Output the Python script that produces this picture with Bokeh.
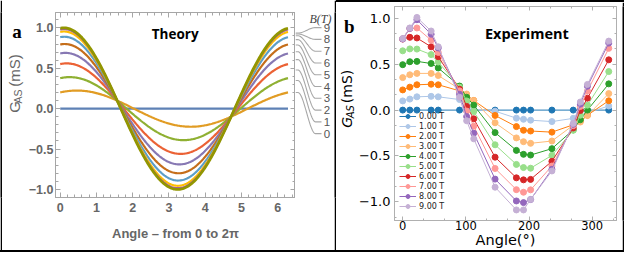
import numpy as np
from bokeh.plotting import figure
from bokeh.layouts import row, column
from bokeh.models import (Range1d, LinearAxis, SingleIntervalTicker, Legend, Div,
                          LegendItem, CustomJSTickFormatter, CustomLabelingPolicy)
from bokeh.core.properties import value
from bokeh.embed import file_html
from bokeh.resources import INLINE

# ---------------- data: panel a (theory model curves) ----------------
B_FIELDS = [0, 1, 2, 3, 4, 5, 6, 7, 8, 9]
THEORY_AMP = [0.0, 0.224, 0.39, 0.56, 0.69, 0.80, 0.89, 0.955, 0.985, 1.0]
THEORY_PHASE = [0.0, 0.46, 0.26, 0.18, 0.145, 0.125, 0.113, 0.105, 0.102, 0.10]
THEORY_COLORS = ["#5E81B5", "#E19C24", "#8FB032", "#EB6235", "#8778B3",
                 "#C56E1A", "#5D9EC7", "#FFBF00", "#A5609D", "#929600"]
CALLOUT_Y = [-0.688, -0.491, -0.294, -0.097, 0.100, 0.297, 0.494, 0.691, 0.889, 1.086]

# ---------------- data: panel b (experiment) ----------------
ANGLES = [0, 11.25, 22.5, 45, 56.25, 90, 101.25, 112.5, 146.25, 180, 191.25,
          202.5, 236.25, 270, 281.25, 292.5, 326.25]
G_0T = [0, 0, 0, 0, 0, 0, 0, 0, 0, 0, 0, 0, 0, 0, 0, 0, 0]
G_1T = [0.10, 0.12, 0.145, 0.15, 0.145, 0.115, 0.06, 0.005, -0.012, -0.088, -0.10,
        -0.11, -0.125, -0.09, -0.06, -0.03, 0.045]
G_2T = [0.22, 0.25, 0.276, 0.282, 0.276, 0.21, 0.165, 0.105, -0.058, -0.18, -0.22,
        -0.228, -0.24, -0.16, -0.12, -0.055, 0.102]
G_3T = [0.354, 0.385, 0.40, 0.40, 0.377, 0.23, 0.175, 0.105, -0.138, -0.303, -0.344,
        -0.362, -0.337, -0.165, -0.13, -0.06, 0.18]
G_4T = [0.495, 0.527, 0.531, 0.508, 0.459, 0.262, 0.14, 0.054, -0.245, -0.439, -0.482,
        -0.49, -0.42, -0.215, -0.105, 0.0, 0.286]
G_5T = [0.646, 0.667, 0.665, 0.605, 0.524, 0.25, 0.10, -0.016, -0.378, -0.592, -0.626,
        -0.633, -0.493, -0.22, -0.055, 0.054, 0.42]
G_6T = [0.775, 0.793, 0.786, 0.69, 0.582, 0.228, 0.04, -0.095, -0.513, -0.738, -0.76,
        -0.755, -0.558, -0.195, -0.005, 0.13, 0.548]
G_7T = [0.775, 0.89, 0.895, 0.762, 0.629, 0.21, -0.01, -0.175, -0.636, -0.867, -0.895,
        -0.869, -0.609, -0.17, 0.04, 0.207, 0.673]
G_8T = [0.775, 0.89, 0.985, 0.827, 0.677, 0.173, -0.07, -0.252, -0.752, -0.99, -1.008,
        -0.975, -0.645, -0.155, 0.065, 0.26, 0.73]
G_9T = [0.78, 0.895, 1.01, 0.862, 0.69, 0.14, -0.116, -0.313, -0.84, -1.088, -1.088,
        -0.973, -0.663, -0.145, 0.088, 0.28, 0.752]
EXP_SERIES = [G_0T, G_1T, G_2T, G_3T, G_4T, G_5T, G_6T, G_7T, G_8T, G_9T]
EXP_LABELS = ["0.00 T", "1.00 T", "2.00 T", "3.00 T", "4.00 T",
              "5.00 T", "6.00 T", "7.00 T", "8.00 T", "9.00 T"]
EXP_COLORS = ["#1f77b4", "#aec7e8", "#ff7f0e", "#ffbb78", "#2ca02c",
              "#98df8a", "#d62728", "#ff9896", "#9467bd", "#c5b0d5"]

# ---------------- layout constants ----------------
H_MAIN = 250
LB_W, LY_W, LP_W, LC_W, DIV_W = 2, 23, 270, 39, 2
RY_W, RP_W, RB_W = 19, 267, 2
TOP_H, BOT_H = 2, 2
RIGHT_W = RY_W + RP_W + RB_W
TOTAL_W = LB_W + LY_W + LP_W + LC_W + DIV_W + RIGHT_W

MGRAY = "#a6a6a6"     # mathematica frame
MTEXT = "#666666"     # mathematica text
minus_fmt = CustomJSTickFormatter(code="""
    const s = Math.abs(tick).toFixed(1);
    return tick < 0 ? '\u2212' + s : s;
""")


def strip(w, h):
    return figure(width=w, height=h, x_axis_type=None, y_axis_type=None,
                  toolbar_location=None, output_backend="svg", min_border=0,
                  background_fill_color="black", border_fill_color="black",
                  outline_line_color=None)


def hbar(w, h):
    return Div(text="", width=w, height=h, margin=0,
               styles={"background-color": "black", "padding": "0px"})


def canvas_fig(w, h, xr, yr):
    return figure(width=w, height=h, x_range=xr, y_range=yr,
                  x_axis_type=None, y_axis_type=None, toolbar_location=None,
                  output_backend="svg", min_border=0, outline_line_color=None,
                  background_fill_color="white", border_fill_color="white")


def style_ticks(ax, color, major_in, minor_in):
    ax.axis_line_color = color
    ax.major_tick_line_color = color
    ax.minor_tick_line_color = color
    ax.major_tick_in = major_in
    ax.major_tick_out = 0
    ax.minor_tick_in = minor_in
    ax.minor_tick_out = 0


def blank_axis(ticker):
    # mirrored tick marks only: no labels are kept
    ax = LinearAxis(ticker=ticker, major_label_text_font_size="0px",
                    major_label_standoff=0, axis_label=None,
                    major_label_policy=CustomLabelingPolicy(code="""
                        try { return new indices.constructor(indices.size, 0) }
                        catch (e) { return indices }
                    """))
    return ax


# ================= panel a : theory =================
LP_TOP, LP_BOT = 12, 53
LP_Y0, LP_Y1 = -1.10, 1.19
lp = figure(width=LP_W, height=H_MAIN, x_range=Range1d(-0.13, 6.49),
            y_range=Range1d(LP_Y0, LP_Y1), toolbar_location=None,
            output_backend="svg", min_border_left=27, min_border_right=0,
            min_border_top=LP_TOP, min_border_bottom=LP_BOT,
            outline_line_color=MGRAY, background_fill_color="white")
lp.grid.visible = False
lp.xaxis.ticker = SingleIntervalTicker(interval=1, num_minor_ticks=5)
lp.yaxis.ticker = SingleIntervalTicker(interval=0.5, num_minor_ticks=5)
lp.yaxis.formatter = minus_fmt
for ax in (lp.xaxis[0], lp.yaxis[0]):
    style_ticks(ax, MGRAY, 5, 3)
    ax.major_label_text_color = MTEXT
    ax.major_label_text_font = "Liberation Sans"
    ax.major_label_text_font_style = "bold"
    ax.major_label_text_font_size = "12.5px"
lp.yaxis.major_label_standoff = 2
lp.xaxis.major_label_standoff = 5
lp.xaxis.axis_label = "Angle – from 0 to 2π"
lp.xaxis.axis_label_text_font = "Liberation Sans Narrow, Liberation Sans"
lp.xaxis.axis_label_text_font_style = "bold"
lp.xaxis.axis_label_text_font_size = "13px"
lp.xaxis.axis_label_text_color = MTEXT
lp.xaxis.axis_label_standoff = 11
for side, tk in (("above", SingleIntervalTicker(interval=1, num_minor_ticks=5)),
                 ("right", SingleIntervalTicker(interval=0.5, num_minor_ticks=5))):
    ax = blank_axis(tk)
    style_ticks(ax, MGRAY, 5, 3)
    lp.add_layout(ax, side)

theta = np.linspace(0, 2 * np.pi, 241)
for b, amp, ph, col in zip(B_FIELDS, THEORY_AMP, THEORY_PHASE, THEORY_COLORS):
    lp.line(theta, amp * np.cos(theta - ph), line_color=col,
            line_width=2.8 if b == 9 else 2.2)
lp.text(x=[3.17], y=[0.93], text=["Theory"], text_font=value("Open Sans"),
        text_font_style="bold", text_font_size="13.5px", text_color="black",
        text_align="center", text_baseline="middle")

# ---- left y label / panel letter ----
ly = canvas_fig(LY_W, H_MAIN, Range1d(0, LY_W), Range1d(0, H_MAIN))
ly.text(x=[14.6], y=[H_MAIN - 26.3], text=["a"], text_font=value("Liberation Serif"),
        text_font_style="bold", text_font_size="19px", text_color="black",
        text_align="center", text_baseline="middle")
fs_main, fs_sub = 15, 10.5
w_G, w_AS, w_sp, w_mS = 0.80 * fs_main, 1.42 * fs_sub, 0.55 * fs_main, 2.166 * fs_main
y_start = H_MAIN - (101.6 + (w_G + w_AS + w_sp + w_mS) / 2)
ly.text(x=[12, 12], y=[y_start, y_start + w_G + w_AS + w_sp], text=["G", "(mS)"],
        angle=np.pi / 2, text_font=value("Liberation Sans"), text_font_size=f"{fs_main}px",
        text_color=MTEXT, text_align="left", text_baseline="middle")
ly.text(x=[15.6], y=[y_start + w_G + 0.5], text=["AS"], angle=np.pi / 2,
        text_font=value("Liberation Sans"), text_font_size=f"{fs_sub}px",
        text_color=MTEXT, text_align="left", text_baseline="middle")

# ---- callouts ----
sc = (H_MAIN - LP_TOP - LP_BOT) / (LP_Y1 - LP_Y0)
lc_top = LP_Y1 + LP_TOP / sc
lc_bot = LP_Y0 - LP_BOT / sc
lc = canvas_fig(LC_W, H_MAIN, Range1d(0, LC_W), Range1d(lc_bot, lc_top))
t = np.linspace(0, 1, 30)
s = 3 * t ** 2 - 2 * t ** 3
for amp, ph, yl in zip(THEORY_AMP, THEORY_PHASE, CALLOUT_Y):
    y0 = amp * np.cos(2 * np.pi - ph)
    xs = np.concatenate([[0], 2.5 + 17.5 * t, [26]])
    ys = np.concatenate([[y0], y0 + (yl - y0) * s, [yl]])
    lc.line(xs, ys, line_color="#a8a8a8", line_width=1.1)
lc.text(x=[28.3] * len(B_FIELDS), y=CALLOUT_Y, text=[str(b) for b in B_FIELDS],
        text_font=value("Liberation Sans"), text_font_size="11.5px",
        text_color="#555555", text_align="left", text_baseline="middle")
lc.text(x=[14], y=[lc_top - 9.4 / sc], text=["B(T)"],
        text_font=value("Liberation Serif"), text_font_style="italic",
        text_font_size="12px", text_color="#444444", text_align="left",
        text_baseline="middle")

# ================= panel b : experiment =================
RP_H = H_MAIN - TOP_H
rp = figure(width=RP_W, height=RP_H, x_range=Range1d(-13, 338.5),
            y_range=Range1d(-1.203, 1.129), toolbar_location=None,
            output_backend="svg", min_border_left=38, min_border_right=6,
            min_border_top=4, min_border_bottom=29,
            outline_line_color="#b0b0b0", background_fill_color="white")
rp.grid.visible = False
rp.xaxis.ticker = SingleIntervalTicker(interval=100, num_minor_ticks=3)
rp.yaxis.ticker = SingleIntervalTicker(interval=0.5, num_minor_ticks=3)
rp.yaxis.formatter = minus_fmt
for ax in (rp.xaxis[0], rp.yaxis[0]):
    style_ticks(ax, "#b0b0b0", 4, 2)
    ax.major_label_text_color = "black"
    ax.major_label_text_font = "DejaVu Sans"
rp.yaxis.major_label_text_font_size = "13px"
rp.yaxis.major_label_standoff = 4
rp.xaxis.major_label_text_font_size = "11.5px"
rp.xaxis.major_label_standoff = 0
rp.xaxis.axis_label = "Angle(°)"
rp.xaxis.axis_label_text_font = "DejaVu Sans"
rp.xaxis.axis_label_text_font_style = "normal"
rp.xaxis.axis_label_text_font_size = "14.5px"
rp.xaxis.axis_label_text_color = "black"
rp.xaxis.axis_label_standoff = -1
for side, tk in (("above", SingleIntervalTicker(interval=100, num_minor_ticks=3)),
                 ("right", SingleIntervalTicker(interval=0.5, num_minor_ticks=3))):
    ax = blank_axis(tk)
    style_ticks(ax, "#b0b0b0", 4, 2)
    rp.add_layout(ax, side)

items = []
for g, lab, col in zip(EXP_SERIES, EXP_LABELS, EXP_COLORS):
    rl = rp.line(ANGLES, g, line_color=col, line_width=1)
    rs = rp.scatter(ANGLES, g, size=6, fill_color=col, line_color=col)
    items.append(LegendItem(label=lab, renderers=[rl, rs]))
leg = Legend(items=items, location=(5, 9), label_text_font="DejaVu Sans",
             label_text_font_size="8px", label_text_color="#222222",
             glyph_width=17, glyph_height=10, label_height=10, label_standoff=3,
             spacing=0, padding=0, margin=0, background_fill_alpha=0,
             border_line_color=None)
rp.add_layout(leg)
rp.text(x=[196.6], y=[0.836], text=["Experiment"], text_font=value("Open Sans"),
        text_font_style="bold", text_font_size="14.5px", text_color="black",
        text_align="center", text_baseline="middle")

# ---- right y label / panel letter ----
ry = canvas_fig(RY_W, RP_H, Range1d(0, RY_W), Range1d(0, RP_H))
ry.text(x=[12.9], y=[H_MAIN - 25.4], text=["b"], text_font=value("Liberation Serif"),
        text_font_style="bold", text_font_size="19px", text_color="black",
        text_align="center", text_baseline="middle")
f_main, f_sub = 14, 10
wG, wAS, wsp, wmS = 0.775 * f_main, 1.319 * f_sub, 0.318 * f_main, 2.389 * f_main
ys0 = H_MAIN - (111.5 + (wG + wAS + wsp + wmS) / 2)
ry.text(x=[10.5], y=[ys0], text=["G"], angle=np.pi / 2, text_font=value("DejaVu Sans"),
        text_font_style="italic", text_font_size=f"{f_main}px", text_color="black",
        text_align="left", text_baseline="middle")
ry.text(x=[13.8], y=[ys0 + wG], text=["AS"], angle=np.pi / 2,
        text_font=value("DejaVu Sans"), text_font_style="italic",
        text_font_size=f"{f_sub}px", text_color="black", text_align="left",
        text_baseline="middle")
ry.text(x=[10.5], y=[ys0 + wG + wAS + wsp], text=["(mS)"], angle=np.pi / 2,
        text_font=value("DejaVu Sans"), text_font_size=f"{f_main}px",
        text_color="black", text_align="left", text_baseline="middle")

# ================= assemble =================
right_col = column(hbar(RIGHT_W, TOP_H), row(ry, rp, strip(RB_W, RP_H)))
main = row(strip(LB_W, H_MAIN), ly, lp, lc, strip(DIV_W, H_MAIN), right_col)
layout = column(main, hbar(TOTAL_W, BOT_H))

open("out.html", "w").write(file_html(layout, INLINE))
